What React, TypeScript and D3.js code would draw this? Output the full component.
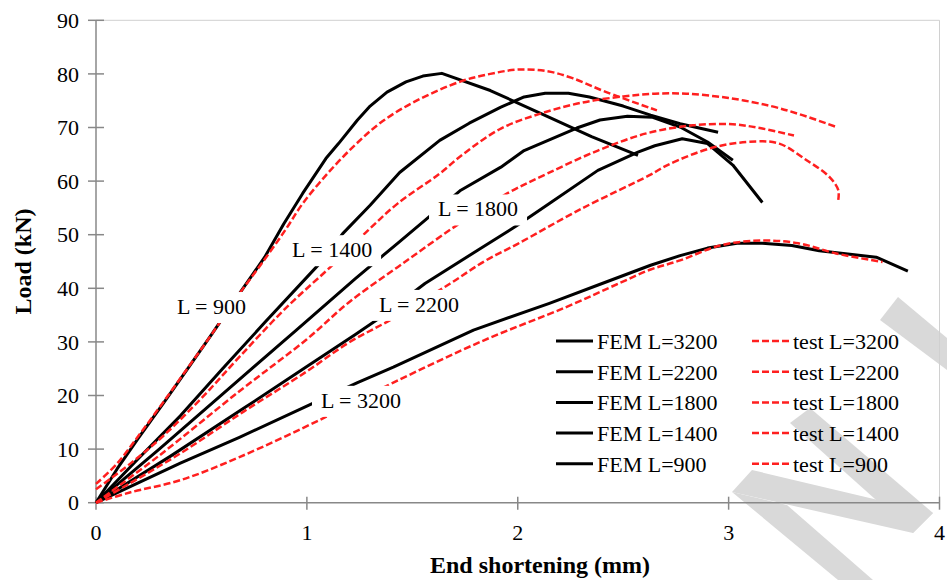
import React from "react";
import * as d3 from "d3";

// end shortening (mm) vs load (kN)
const femL900 = [[0,0],[0.1,6.3],[0.2,12],[0.32,18.6],[0.44,25.3],[0.55,31.5],[0.68,39],[0.8,45.8],[0.89,52],[0.98,57.7],[1.09,64.2],[1.15,67],[1.24,71.4],[1.3,74],[1.38,76.6],[1.47,78.5],[1.55,79.6],[1.64,80.1],[1.87,76.9],[2.15,71.9],[2.35,68.3],[2.57,64.8]];
const femL1400 = [[0,0],[0.2,8.2],[0.4,16.2],[0.6,25],[0.8,33.6],[1.06,44.6],[1.17,50.2],[1.3,55.5],[1.44,61.6],[1.63,67.6],[1.77,70.8],[1.92,73.8],[2.03,75.7],[2.13,76.4],[2.24,76.4],[2.34,75.7],[2.5,74],[2.63,72.3],[2.77,70.7],[2.95,69.1]];
const femL1800 = [[0,0],[0.3,10],[0.63,21.3],[0.95,32.2],[1.23,41.8],[1.43,48.4],[1.73,58.3],[1.92,62.6],[2.03,65.7],[2.28,69.9],[2.39,71.4],[2.52,72.1],[2.64,71.9],[2.77,70.1],[2.9,67.3],[3.02,63.9]];
const femL2200 = [[0,0],[0.35,8.6],[0.7,17.6],[1.0,25.4],[1.23,31.4],[1.35,34.6],[1.56,40.9],[1.81,47.1],[2.0,51.8],[2.15,55.8],[2.38,62],[2.57,65.4],[2.65,66.6],[2.78,67.9],[2.9,67],[3.02,63],[3.16,56]];
const femL3200 = [[0,0],[0.4,7.4],[0.68,12.2],[1.01,18.2],[1.24,22.4],[1.41,25.3],[1.79,32.2],[2.15,37.2],[2.4,40.9],[2.63,44.3],[2.77,46.1],[2.9,47.5],[3.04,48.4],[3.16,48.4],[3.3,48],[3.43,47],[3.7,45.8],[3.85,43.2]];

const testL900 = [[0,3.5],[0.1,7.3],[0.2,12.4],[0.32,18.8],[0.44,25.4],[0.55,31.5],[0.68,39],[0.8,45.4],[0.9,51],[0.98,55.8],[1.1,61.5],[1.23,66.8],[1.36,71.2],[1.52,75],[1.73,78.6],[1.87,80],[2.0,80.8],[2.14,80.5],[2.26,79.2],[2.42,76.6],[2.66,73.2]];
const testL1400 = [[0,2.5],[0.16,7.2],[0.32,12.5],[0.5,19.5],[0.68,27.2],[0.9,36.3],[1.14,45],[1.29,50.8],[1.43,55.8],[1.63,61.4],[1.74,65],[1.92,69.8],[2.1,72.5],[2.3,74.6],[2.5,75.8],[2.65,76.3],[2.8,76.3],[3.0,75.5],[3.2,74],[3.35,72.3],[3.51,70.1]];
const testL1800 = [[0,0],[0.3,8.8],[0.68,20.8],[1.0,30.5],[1.2,37.4],[1.45,44.5],[1.72,52],[1.95,57.7],[2.14,61.4],[2.38,65.7],[2.61,68.9],[2.83,70.4],[3.02,70.6],[3.16,69.8],[3.31,68.5]];
const testL2200 = [[0,0],[0.16,3.6],[0.4,9.2],[0.7,17],[1.0,24.5],[1.2,29.9],[1.41,34.4],[1.68,40.9],[1.84,45],[2.0,48.3],[2.3,54.8],[2.63,61.2],[2.71,63],[2.93,66.3],[3.13,67.4],[3.24,67],[3.37,63.9],[3.48,60.7],[3.52,58.3],[3.52,56.5]];
const testL3200 = [[0,0],[0.16,1.9],[0.4,4.2],[0.68,8.5],[1.09,16],[1.41,22.4],[1.84,30.3],[2.23,36.5],[2.49,41.1],[2.63,43.5],[2.77,45.2],[2.96,48],[3.15,48.9],[3.33,48.4],[3.51,46.5],[3.73,44.9]];

const femSeries = [femL3200, femL2200, femL1800, femL1400, femL900];
const testSeries = [testL3200, testL2200, testL1800, testL1400, testL900];
const femNames = ["FEM L=3200", "FEM L=2200", "FEM L=1800", "FEM L=1400", "FEM L=900"];
const testNames = ["test L=3200", "test L=2200", "test L=1800", "test L=1400", "test L=900"];

// in-plot annotations (data coords of text start / baseline)
const annoText = ["L = 900", "L = 1400", "L = 1800", "L = 2200", "L = 3200"];
const annoX = [0.384, 0.93, 1.622, 1.342, 1.067];
const annoY = [35.2, 45.8, 53.4, 35.6, 17.7];

const xTicks = [0, 1, 2, 3, 4];
const yTicks = [0, 10, 20, 30, 40, 50, 60, 70, 80, 90];

const W = 947, H = 580;
const font = "'Liberation Serif', 'Times New Roman', serif";

export default function App() {
  const x = d3.scaleLinear().domain([0, 4]).range([96, 939.5]);
  const y = d3.scaleLinear().domain([0, 90]).range([502.7, 20.3]);

  const femLine = d3.line<number[]>().x(d => x(d[0])).y(d => y(d[1]));
  const testLine = d3.line<number[]>().x(d => x(d[0])).y(d => y(d[1])).curve(d3.curveCatmullRom.alpha(0.5));

  const [x0, x1] = x.range();
  const [y0, y1] = y.range();

  // watermark fragments
  const marks = [
    "898,297 947,338 947,370 880,320",
    "810,408 933,513 913,533 790,423",
    "752,470 933,513 913,533 732,492",
    "732,492 787,505 873,580 838,580",
  ];

  return (
    <svg width={W} height={H} style={{ position: "absolute", left: 0, top: 0, background: "#fff" }} fontFamily={font}>
      {marks.map((p, i) => <polygon key={i} points={p} fill="#d9d9d9" />)}

      {/* plot frame */}
      <line x1={x0} x2={x1} y1={y1} y2={y1} stroke="#d0d0d0" strokeWidth={1} />
      <line x1={x1} x2={x1} y1={y1} y2={y0} stroke="#d0d0d0" strokeWidth={1} />
      <line x1={x0} x2={x0} y1={y1} y2={y0} stroke="#888" strokeWidth={1.5} />
      <line x1={x0} x2={x1} y1={y0} y2={y0} stroke="#888" strokeWidth={1.5} />

      {yTicks.map(t => (
        <g key={"y" + t}>
          <line x1={x0 - 8} x2={x0 + 8} y1={y(t)} y2={y(t)} stroke="#888" strokeWidth={1.5} />
          <text x={79} y={y(t)} dy="0.35em" textAnchor="end" fontSize={22}>{t}</text>
        </g>
      ))}
      {xTicks.map(t => (
        <g key={"x" + t}>
          <line x1={x(t)} x2={x(t)} y1={y0 - 6} y2={y0 + 7} stroke="#888" strokeWidth={1.5} />
          <text x={x(t)} y={540} textAnchor="middle" fontSize={22}>{t}</text>
        </g>
      ))}

      <text x={540} y={573} textAnchor="middle" fontSize={24} fontWeight="bold">End shortening (mm)</text>
      <text transform={`translate(31,${(y0 + y1) / 2}) rotate(-90)`} textAnchor="middle" fontSize={24} fontWeight="bold">Load (kN)</text>

      {femSeries.map((s, i) => (
        <path key={"f" + i} d={femLine(s) || ""} fill="none" stroke="#000" strokeWidth={3} strokeLinejoin="round" />
      ))}
      {testSeries.map((s, i) => (
        <path key={"t" + i} d={testLine(s) || ""} fill="none" stroke="#ff1f1f" strokeWidth={2.5} strokeDasharray="7,3" />
      ))}

      {annoText.map((t, i) => {
        const w = t.length === 7 ? 70 : 81;
        return (
          <g key={"a" + i}>
            <rect x={x(annoX[i]) - 9} y={y(annoY[i]) - 22} width={w + 17} height={31} fill="#fff" />
            <text x={x(annoX[i])} y={y(annoY[i])} fontSize={22}>{t}</text>
          </g>
        );
      })}

      {femNames.map((n, i) => {
        const cy = 341 + i * 30.7;
        return (
          <g key={"lf" + i}>
            <line x1={556} x2={593} y1={cy} y2={cy} stroke="#000" strokeWidth={3} />
            <text x={597} y={cy + 8} fontSize={22}>{n}</text>
          </g>
        );
      })}
      {testNames.map((n, i) => {
        const cy = 341 + i * 30.7;
        return (
          <g key={"lt" + i}>
            <line x1={752} x2={789} y1={cy} y2={cy} stroke="#ff1f1f" strokeWidth={2.5} strokeDasharray="7,3" />
            <text x={793} y={cy + 8} fontSize={22}>{n}</text>
          </g>
        );
      })}
    </svg>
  );
}
